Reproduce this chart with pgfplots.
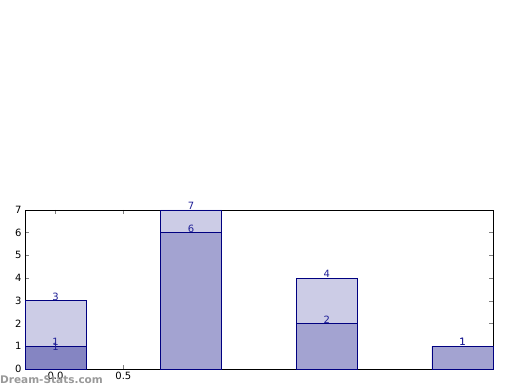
\documentclass[border=0pt]{standalone}
\usepackage{pgfplots}
\pgfplotsset{compat=1.18}
\usepackage{fontspec}
\setmainfont{DejaVu Sans}
\definecolor{light}{RGB}{204,204,230}
\definecolor{mid}{RGB}{163,163,209}
\definecolor{dark}{RGB}{133,133,194}
\definecolor{edge}{RGB}{0,0,128}
\definecolor{lbl}{RGB}{30,30,150}
\begin{document}
\begin{tikzpicture}[x=1pt,y=1pt]
\useasboundingbox (0,0) rectangle (520,390);
\begin{axis}[
  at={(25pt,21pt)}, anchor=south west,
  scale only axis, width=468pt, height=159pt,
  xmin=-0.225, xmax=3.225, ymin=0, ymax=7,
  xtick={0,0.5}, xticklabels={0.0,0.5},
  ytick={0,1,...,7},
  tick style={gray, line width=0.5pt},
  major tick length=4pt,
  tick label style={font=\fontsize{10}{12}\selectfont},
  /pgf/number format/assume math mode=true,
  axis line style={black, line width=0.8pt},
  clip=false,
  every node near coord/.style={font=\fontsize{10}{12}\selectfont, text=lbl, inner sep=0pt},
]
\addplot[ybar, bar width=0.45, bar shift=0pt, fill=light, draw=edge, line width=0.8pt,
  nodes near coords, nodes near coords align={vertical}]
  coordinates {(0,3) (1,7) (2,4) (3,1)};
\addplot[ybar, bar width=0.45, bar shift=0pt, fill=mid, draw=edge, line width=0.8pt,
  nodes near coords, nodes near coords align={vertical}]
  coordinates {(0,1) (1,6) (2,2) (3,1)};
\addplot[ybar, bar width=0.45, bar shift=0pt, fill=dark, draw=edge, line width=0.8pt,
  nodes near coords, nodes near coords style={anchor=center, yshift=-1pt}]
  coordinates {(0,1)};
\end{axis}
\node[anchor=west, inner sep=0pt, text=gray!80, font=\fontsize{10.5}{12}\selectfont\bfseries] at (0,10) {Dream-Stats.com};
\end{tikzpicture}
\end{document}
